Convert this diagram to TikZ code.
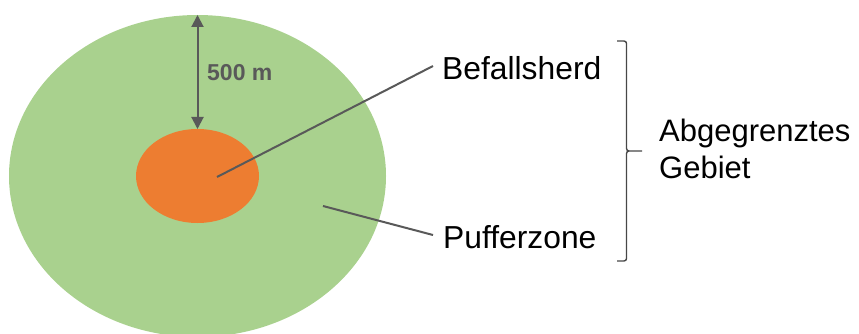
\documentclass[tikz,border=0pt]{standalone}
\usepackage{fontspec}
\setmainfont{Liberation Sans}
\usetikzlibrary{arrows.meta}
\definecolor{zonegreen}{HTML}{A9D18E}
\definecolor{herdorange}{HTML}{ED7D31}
\definecolor{linegray}{HTML}{595959}
\tikzset{
  label text/.style={font=\fontsize{31.8}{37}\selectfont, text=black, inner sep=0pt},
  pointer/.style={draw=linegray, line width=2pt},
  bracket/.style={draw=linegray!80!black, line width=1.4pt},
}
\begin{document}
\begin{tikzpicture}[x=1pt,y=-1pt]
\useasboundingbox (0,0) rectangle (859,334);
\begin{scope}
\clip (0,0) rectangle (859,334);
% buffer zone and outbreak site
\fill[zonegreen] (197.5,176) ellipse [x radius=188.5, y radius=161];
\fill[herdorange] (197.5,176) ellipse [x radius=61.5, y radius=47];
\end{scope}
% distance marker
\coordinate (outer) at (197.5,15);
\coordinate (inner) at (197.5,129);
\draw[linegray, line width=2pt, {Triangle[length=12pt,width=12pt]}-{Triangle[length=12pt,width=12pt]}] (outer) -- (inner);
\node[font=\bfseries\fontsize{23}{26}\selectfont, text=linegray, anchor=west, inner sep=0pt] (dist) at (207,73) {500 m};
% labels with pointer lines
\node[label text, anchor=west] (herd) at (442,68) {Befallsherd};
\node[label text, anchor=west] (puffer) at (443,237) {Pufferzone};
\coordinate (herdpt) at (217,177);
\coordinate (pufferpt) at (323,206);
\draw[pointer] (herdpt) -- (433,66);
\draw[pointer] (pufferpt) -- (433,235);
% bracket around both zones
\coordinate (btop) at (617,41);
\coordinate (bbot) at (617,261);
\coordinate (btip) at (642,151);
\draw[bracket] (btop) -- (624,41) to[out=0,in=90] (626.5,43.5) -- (626.5,148.5) to[out=-90,in=180] (629,151) -- (btip);
\draw[bracket] (629,151) to[out=180,in=90] (626.5,153.5) -- (626.5,258.5) to[out=-90,in=0] (624,261) -- (bbot);
\node[label text, font=\fontsize{31}{37}\selectfont, anchor=west, align=left] (gebiet) at (659,149) {Abgegrenztes\\Gebiet};
\end{tikzpicture}
\end{document}
